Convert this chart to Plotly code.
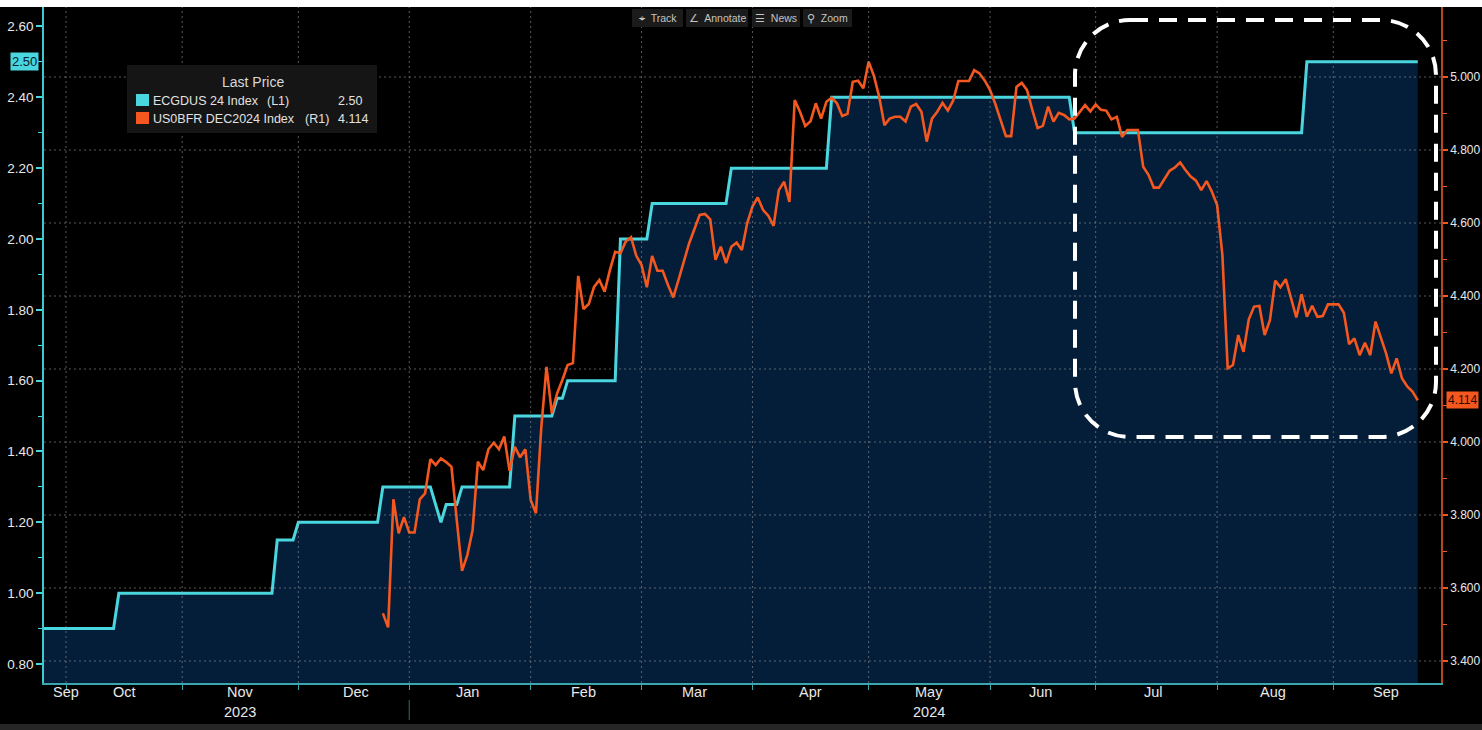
import plotly.graph_objects as go
import pandas as pd

# ---------------- data ----------------
ECG_NAME = "ECGDUS 24 Index"
ECG_DATES = [
    "2023-09-25", "2023-10-13", "2023-10-16", "2023-11-24", "2023-11-27",
    "2023-11-30", "2023-12-01", "2023-12-22", "2023-12-25", "2024-01-05",
    "2024-01-09", "2024-01-10", "2024-01-12", "2024-01-15", "2024-01-26",
    "2024-01-29", "2024-02-07", "2024-02-08", "2024-02-09", "2024-02-12",
    "2024-02-23", "2024-02-26", "2024-03-04", "2024-03-05", "2024-03-25",
    "2024-03-26", "2024-04-19", "2024-04-22", "2024-06-24", "2024-06-25",
    "2024-08-23", "2024-08-26", "2024-09-24",
]
ECG_VALUES = [
    0.90, 0.90, 1.00, 1.00, 1.15,
    1.15, 1.20, 1.20, 1.30, 1.30,
    1.20, 1.25, 1.25, 1.30, 1.30,
    1.50, 1.50, 1.55, 1.55, 1.60,
    1.60, 2.00, 2.00, 2.10, 2.10,
    2.20, 2.20, 2.40, 2.40, 2.30,
    2.30, 2.50, 2.50,
]

US0_NAME = "US0BFR DEC2024 Index"
US0_START = "2023-12-25"   # first weekday shown; one value per weekday after it
US0_VALUES = [
    3.531, 3.492, 3.843, 3.750, 3.794, 3.752, 3.752, 3.843, 3.859, 3.953,
    3.937, 3.955, 3.945, 3.932, 3.786, 3.647, 3.690, 3.759, 3.946, 3.923,
    3.980, 3.998, 3.980, 4.015, 3.921, 3.987, 3.958, 3.980, 3.841, 3.805,
    4.038, 4.206, 4.079, 4.133, 4.170, 4.211, 4.216, 4.455, 4.364, 4.378,
    4.425, 4.444, 4.412, 4.471, 4.521, 4.517, 4.549, 4.561, 4.510, 4.485,
    4.424, 4.510, 4.469, 4.469, 4.430, 4.396, 4.444, 4.494, 4.544, 4.583,
    4.622, 4.625, 4.610, 4.499, 4.535, 4.490, 4.535, 4.546, 4.526, 4.599,
    4.645, 4.670, 4.636, 4.620, 4.592, 4.690, 4.713, 4.658, 4.937, 4.905,
    4.866, 4.879, 4.928, 4.886, 4.932, 4.943, 4.928, 4.893, 4.899, 4.987,
    4.990, 4.969, 5.042, 5.003, 4.946, 4.868, 4.886, 4.891, 4.891, 4.878,
    4.919, 4.926, 4.905, 4.823, 4.886, 4.905, 4.929, 4.908, 4.935, 4.989,
    4.989, 4.989, 5.019, 5.010, 4.990, 4.964, 4.926, 4.882, 4.838, 4.838,
    4.973, 4.984, 4.964, 4.910, 4.860, 4.866, 4.919, 4.878, 4.902, 4.896,
    4.884, 4.886, 4.905, 4.923, 4.906, 4.925, 4.910, 4.908, 4.884, 4.891,
    4.836, 4.855, 4.855, 4.855, 4.754, 4.732, 4.697, 4.697, 4.720, 4.743,
    4.752, 4.766, 4.745, 4.727, 4.716, 4.690, 4.715, 4.686, 4.649, 4.512,
    4.202, 4.211, 4.293, 4.247, 4.336, 4.371, 4.373, 4.293, 4.334, 4.442,
    4.424, 4.446, 4.394, 4.341, 4.405, 4.343, 4.373, 4.343, 4.345, 4.377,
    4.377, 4.377, 4.354, 4.268, 4.284, 4.238, 4.272, 4.238, 4.330, 4.284,
    4.243, 4.188, 4.229, 4.175, 4.152, 4.138, 4.114,
]

LEFT_TICKS = [0.80, 1.00, 1.20, 1.40, 1.60, 1.80, 2.00, 2.20, 2.40, 2.60]
RIGHT_TICKS = [3.4, 3.6, 3.8, 4.0, 4.2, 4.4, 4.6, 4.8, 5.0]
MONTH_STARTS = ["2023-10-02", "2023-11-01", "2023-12-01", "2024-01-01",
                "2024-02-01", "2024-03-01", "2024-04-01", "2024-05-01",
                "2024-06-03", "2024-07-01", "2024-08-01", "2024-09-02"]
MONTH_LABELS = ["Sep", "Oct", "Nov", "Dec", "Jan", "Feb", "Mar", "Apr",
                "May", "Jun", "Jul", "Aug", "Sep"]
MONTH_LABEL_DATES = ["2023-10-02", "2023-10-17", "2023-11-16", "2023-12-18",
                     "2024-01-16", "2024-02-15", "2024-03-15", "2024-04-16",
                     "2024-05-16 12:00", "2024-06-14 12:00", "2024-07-16",
                     "2024-08-15 12:00", "2024-09-16"]
YEAR_LABELS = ["2023", "2024"]
YEAR_LABEL_DATES = ["2023-11-16", "2024-05-16 12:00"]
YEAR_SPLIT = "2024-01-01"

X_RANGE = ["2023-09-25 19:55", "2024-09-30 09:36"]
LEFT_RANGE = [0.7464, 2.6549]
RIGHT_RANGE = [3.3397, 5.1918]

# ---------------- style ----------------
CYAN = "#4ad6de"
ORANGE = "#f5581f"
FILL = "#041d38"
GRID = "rgba(150,150,150,0.6)"
W, H = 1482, 730
L, R, T, B = 44, 1441, 7, 683


def px(x):
    return (x - L) / (R - L)


def py(y):
    return (B - y) / (B - T)


us0_dates = pd.bdate_range(US0_START, periods=len(US0_VALUES))

fig = go.Figure()
fig.add_trace(go.Scatter(
    x=ECG_DATES, y=ECG_VALUES, mode="lines", name=ECG_NAME,
    line=dict(color=CYAN, width=3), fill="tozeroy", fillcolor=FILL,
    yaxis="y", showlegend=False, hoverinfo="skip"))
fig.add_trace(go.Scatter(
    x=us0_dates, y=US0_VALUES, mode="lines", name=US0_NAME,
    line=dict(color=ORANGE, width=2.6), yaxis="y2",
    showlegend=False, hoverinfo="skip"))

shapes = []
# gridlines (drawn above the area fill, like the reference)
for d in MONTH_STARTS:
    shapes.append(dict(type="line", xref="x", yref="paper", x0=d, x1=d,
                       y0=0, y1=1, layer="above",
                       line=dict(color=GRID, width=1, dash="2px,3px")))
for t in RIGHT_TICKS:
    shapes.append(dict(type="line", xref="paper", yref="y2", x0=0, x1=1,
                       y0=t, y1=t, layer="above",
                       line=dict(color=GRID, width=1, dash="2px,3px")))
# legend box
shapes.append(dict(type="rect", xref="paper", yref="paper",
                   x0=px(127), x1=px(377), y0=py(65), y1=py(133),
                   fillcolor="#151515", line=dict(width=0), layer="above"))
shapes.append(dict(type="rect", xref="paper", yref="paper",
                   x0=px(136), x1=px(149), y0=py(94), y1=py(106),
                   fillcolor=CYAN, line=dict(width=0), layer="above"))
shapes.append(dict(type="rect", xref="paper", yref="paper",
                   x0=px(136), x1=px(149), y0=py(112), y1=py(124),
                   fillcolor=ORANGE, line=dict(width=0), layer="above"))
# top white strip and bottom grey band
shapes.append(dict(type="rect", xref="paper", yref="paper",
                   x0=px(0), x1=px(W), y0=py(-1), y1=py(T),
                   fillcolor="#ffffff", line=dict(width=0), layer="above"))
shapes.append(dict(type="rect", xref="paper", yref="paper",
                   x0=px(0), x1=px(W), y0=py(724), y1=py(731),
                   fillcolor="#262626", line=dict(width=0), layer="above"))
shapes.append(dict(type="line", xref="x", yref="paper", x0=YEAR_SPLIT,
                   x1=YEAR_SPLIT, y0=py(700), y1=py(720),
                   line=dict(color="#2f6f74", width=1)))
# toolbar boxes
for a, b in [(632, 683), (686, 748), (752, 800), (803, 852)]:
    shapes.append(dict(type="rect", xref="paper", yref="paper",
                       x0=px(a), x1=px(b), y0=py(9), y1=py(27),
                       fillcolor="#1b1b1b", line=dict(width=0),
                       layer="above"))

# dashed rounded highlight box
x0, x1, y0, y1, r = 1075, 1436, 20, 437, 55
k = 0.5523 * r


def P(x, y):
    return f"{px(x):.5f},{py(y):.5f}"


path = (f"M {P(x0 + r, y0)} L {P(x1 - r, y0)} "
        f"C {P(x1 - r + k, y0)} {P(x1, y0 + r - k)} {P(x1, y0 + r)} "
        f"L {P(x1, y1 - r)} "
        f"C {P(x1, y1 - r + k)} {P(x1 - r + k, y1)} {P(x1 - r, y1)} "
        f"L {P(x0 + r, y1)} "
        f"C {P(x0 + r - k, y1)} {P(x0, y1 - r + k)} {P(x0, y1 - r)} "
        f"L {P(x0, y0 + r)} "
        f"C {P(x0, y0 + r - k)} {P(x0 + r - k, y0)} {P(x0 + r, y0)} Z")
shapes.append(dict(type="path", xref="paper", yref="paper", path=path,
                   layer="above",
                   line=dict(color="#ffffff", width=4, dash="18px,11px")))

ann = []
TXT = "Liberation Sans, Arial, sans-serif"
NARROW = "Liberation Sans Narrow, Arial Narrow, Liberation Sans, sans-serif"
# month and year labels
for lab, d in zip(MONTH_LABELS, MONTH_LABEL_DATES):
    ann.append(dict(x=d, xref="x", y=py(692), yref="paper", text=lab,
                    showarrow=False, xanchor="center", yanchor="middle",
                    font=dict(family=NARROW, size=14.5, color="#e8e8e8")))
for lab, d in zip(YEAR_LABELS, YEAR_LABEL_DATES):
    ann.append(dict(x=d, xref="x", y=py(712), yref="paper", text=lab,
                    showarrow=False, xanchor="center", yanchor="middle",
                    font=dict(family=NARROW, size=14.5, color="#e8e8e8")))
# legend texts
LEG = dict(family=TXT, size=12.5, color="#e2e2e2")
ann += [
    dict(x=px(253), y=py(82.5), text="Last Price", xanchor="center",
         font=dict(family=TXT, size=14, color="#d8d8d8")),
    dict(x=px(151), y=py(100.5), text=ECG_NAME, xanchor="left", font=LEG),
    dict(x=px(265), y=py(100.5), text="(L1)", xanchor="left", font=LEG),
    dict(x=px(364), y=py(100.5), text=f"{ECG_VALUES[-1]:.2f}",
         xanchor="right", font=LEG),
    dict(x=px(151), y=py(118.5), text=US0_NAME, xanchor="left", font=LEG),
    dict(x=px(303), y=py(118.5), text="(R1)", xanchor="left", font=LEG),
    dict(x=px(370), y=py(118.5), text=f"{US0_VALUES[-1]:.3f}",
         xanchor="right", font=LEG),
]
for a in ann[-7:]:
    a.update(xref="paper", yref="paper", showarrow=False, yanchor="middle")
# toolbar
for lab, c in [("⌖  Track", 657.5), ("∠  Annotate", 717),
               ("☰  News", 776), ("⚲  Zoom", 827.5)]:
    ann.append(dict(x=px(c), y=py(18), xref="paper", yref="paper", text=lab,
                    showarrow=False, xanchor="center", yanchor="middle",
                    font=dict(family=TXT, size=10.5, color="#c4c4c4")))
# last-value tags
ann.append(dict(x=0, xref="paper", y=ECG_VALUES[-1], yref="y",
                text=f"{ECG_VALUES[-1]:.2f}", showarrow=False,
                xanchor="right", yanchor="middle", xshift=-5,
                bgcolor=CYAN, borderpad=1,
                font=dict(family=TXT, size=13, color="#06202e")))
ann.append(dict(x=1, xref="paper", y=US0_VALUES[-1], yref="y2",
                text=f"{US0_VALUES[-1]:.3f}", showarrow=False,
                xanchor="left", yanchor="middle", xshift=5,
                bgcolor=ORANGE, borderpad=1,
                font=dict(family=TXT, size=12, color="#2a0c00")))

fig.update_layout(
    width=W, height=H,
    margin=dict(l=L, r=W - R, t=T, b=H - B, pad=0, autoexpand=False),
    paper_bgcolor="#000000", plot_bgcolor="#000000",
    showlegend=False,
    shapes=shapes, annotations=ann,
    xaxis=dict(
        type="date", range=X_RANGE, automargin=False,
        rangebreaks=[dict(bounds=["sat", "mon"])],
        tickmode="array", tickvals=MONTH_STARTS, showticklabels=False,
        ticks="outside", ticklen=5, tickwidth=1, tickcolor="#3aa7ad",
        showgrid=False, zeroline=False, showline=True,
        linecolor="#3aa7ad", linewidth=1.5, layer="above traces"),
    yaxis=dict(
        range=LEFT_RANGE, automargin=False, tickmode="array",
        tickvals=LEFT_TICKS,
        tickformat=".2f", ticks="outside", ticklen=6, tickwidth=2,
        tickcolor=CYAN, showgrid=False, zeroline=False, showline=True,
        linecolor="#3fc9cf", linewidth=1.5, layer="above traces",
        tickfont=dict(family=TXT, size=13.5, color="#e8e8e8"),
        minor=dict(ticks="outside", ticklen=4, tickwidth=1,
                   tickcolor=CYAN, dtick=0.1, tick0=0.8, showgrid=False)),
    yaxis2=dict(
        range=RIGHT_RANGE, automargin=False, overlaying="y", side="right",
        tickmode="array",
        tickvals=RIGHT_TICKS, tickformat=".3f", ticks="outside", ticklen=5,
        tickwidth=2, tickcolor=ORANGE, showgrid=False, zeroline=False,
        showline=True, linecolor="#b9461d", linewidth=1.5,
        layer="above traces",
        tickfont=dict(family=TXT, size=12, color="#e8e8e8"),
        minor=dict(ticks="outside", ticklen=4, tickwidth=1,
                   tickcolor=ORANGE, dtick=0.1, tick0=3.4, showgrid=False)),
)

fig.write_html(
    "out.html",
    config={"displayModeBar": False},
    post_script=("document.body.style.margin='0px';"
                 "document.body.style.overflow='hidden';"
                 "document.documentElement.style.overflow='hidden';"))
